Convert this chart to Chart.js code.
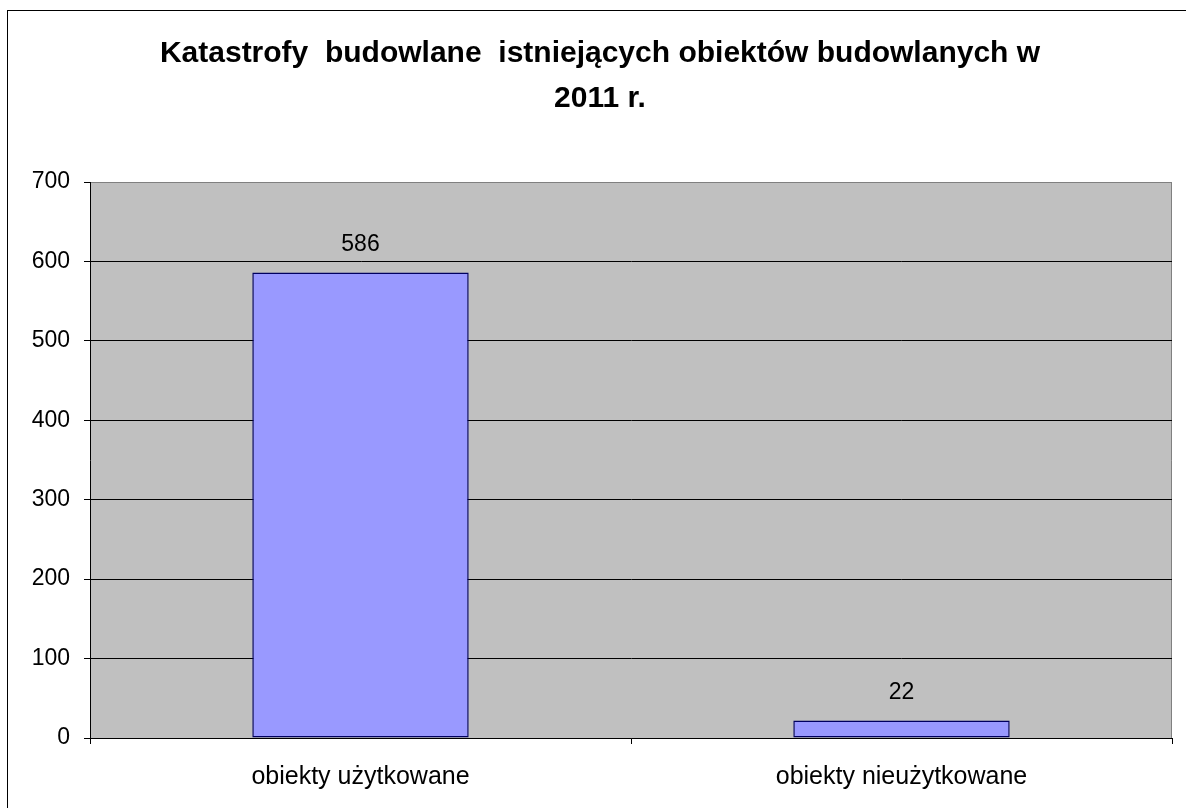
<!DOCTYPE html>
<html>
<head>
<meta charset="utf-8">
<script src="https://cdn.jsdelivr.net/npm/chart.js@4.4.1/dist/chart.umd.min.js"></script>
<style>
  html, body { margin: 0; padding: 0; background: #fff; overflow: hidden; }
  #wrap { width: 1186px; height: 808px; }
</style>
</head>
<body>
<div id="wrap"><canvas id="chart"></canvas></div>
<script>
const title = ['Katastrofy  budowlane  istniejących obiektów budowlanych w', '2011 r.'];
const categories = ['obiekty użytkowane', 'obiekty nieużytkowane'];
const counts = [586, 22];
const yMin = 0, yMax = 700, yStep = 100;

// grey plot area + outer frame
const background = {
    id: 'background',
    beforeDraw(chart) {
        const { ctx, chartArea: a } = chart;
        ctx.save();
        ctx.strokeStyle = '#000';
        ctx.lineWidth = 1;
        ctx.strokeRect(7.5, 10.5, 1220, 830);
        ctx.fillStyle = '#c0c0c0';
        ctx.fillRect(a.left, a.top, a.right - a.left, a.bottom - a.top);
        ctx.strokeStyle = '#808080';
        ctx.beginPath();
        ctx.moveTo(a.left, a.top + 0.5);
        ctx.lineTo(a.right - 0.5, a.top + 0.5);
        ctx.lineTo(a.right - 0.5, a.bottom);
        ctx.stroke();
        ctx.restore();
    }
};

// value above each bar
const valueLabels = {
    id: 'valueLabels',
    afterDatasetsDraw(chart) {
        const { ctx } = chart;
        const meta = chart.getDatasetMeta(0);
        ctx.save();
        ctx.font = '23px "Liberation Sans", Arial, sans-serif';
        ctx.fillStyle = '#000';
        ctx.textAlign = 'center';
        ctx.textBaseline = 'middle';
        meta.data.forEach(function(bar, i) {
            ctx.fillText(String(counts[i]), bar.x, bar.y - 28);
        });
        ctx.restore();
    }
};

var ctx = document.getElementById('chart').getContext('2d');
var chart = new Chart(ctx, {
    type: 'bar',
    data: {
        labels: categories,
        datasets: [{
            data: counts,
            backgroundColor: '#9999ff',
            borderColor: '#000060',
            borderWidth: 1.5,
            borderSkipped: false,
            categoryPercentage: 1,
            barPercentage: 0.4
        }]
    },
    options: {
        responsive: true,
        maintainAspectRatio: false,
        animation: false,
        layout: { padding: { left: 28, right: 14, top: 0, bottom: 0 } },
        plugins: {
            legend: { display: false },
            tooltip: { enabled: false },
            title: {
                display: true,
                text: title,
                color: '#000',
                font: { family: '"Liberation Sans", Arial, sans-serif', size: 30, weight: 'bold', lineHeight: 1.5 },
                padding: { top: 31, bottom: 61 }
            }
        },
        scales: {
            x: {
                grid: { drawOnChartArea: false, color: '#000', tickLength: 6, offset: true },
                border: { color: '#000', width: 1 },
                ticks: {
                    color: '#000',
                    padding: 18,
                    font: { family: '"Liberation Sans", Arial, sans-serif', size: 25 }
                },
                afterFit(scale) { scale.height = 70; }
            },
            y: {
                min: yMin,
                max: yMax,
                grid: {
                    color: function(c) { return c.tick.value === yMax ? '#808080' : '#000'; },
                    tickColor: '#000',
                    tickLength: 6
                },
                border: { color: '#000', width: 1 },
                ticks: {
                    stepSize: yStep,
                    color: '#000',
                    padding: 14,
                    font: { family: '"Liberation Sans", Arial, sans-serif', size: 23 }
                },
                afterFit(scale) { scale.width = 62; }
            }
        }
    },
    plugins: [background, valueLabels]
});
</script>
</body>
</html>
